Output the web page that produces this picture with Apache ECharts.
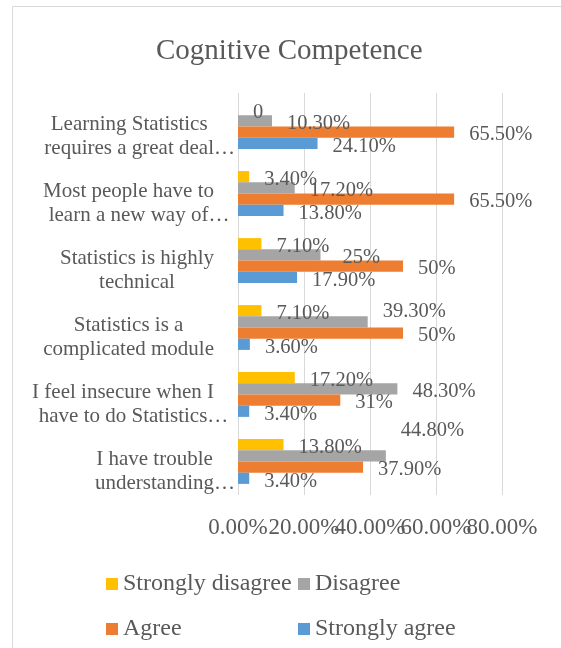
<!DOCTYPE html>
<html>
<head>
<meta charset="utf-8">
<style>
  html, body { margin: 0; padding: 0; background: #ffffff; }
  #chart { width: 561px; height: 648px; }
</style>
<script src="https://cdn.jsdelivr.net/npm/echarts@6/dist/echarts.min.js"></script>
</head>
<body>
<div id="chart"></div>
<script>
const categories = [
  "Learning Statistics\nrequires a great deal…",
  "Most people have to\nlearn a new way of…",
  "Statistics is highly\ntechnical",
  "Statistics is a\ncomplicated module",
  "I feel insecure when I\nhave to do Statistics…",
  "I have trouble\nunderstanding…",
];
const seriesNames = ["Strongly disagree", "Disagree", "Agree", "Strongly agree"];
const stronglyDisagree = [0, 3.4, 7.1, 7.1, 17.2, 13.8];
const disagree = [10.3, 17.2, 25, 39.3, 48.3, 44.8];
const agree = [65.5, 65.5, 50, 50, 31, 37.9];
const stronglyAgree = [24.1, 13.8, 17.9, 3.6, 3.4, 3.4];
const axisTicks = [0, 20, 40, 60, 80];

const colors = ["#FFC000", "#A5A5A5", "#ED7D31", "#5B9BD5"];
const textColor = "#595959";
const serif = '"Liberation Serif", "Times New Roman", serif';

// Excel centres each wrapped label on its own lines, ignoring the trailing "…"
let ctx = document.createElement("canvas").getContext("2d");
ctx.font = "21px " + serif;
const ellW = ctx.measureText("…").width;
const labelRight = 214;
const axisX = 238;

let yData = categories.map(function (name) {
  let lines = name.split("\n");
  let plain = lines.map((l) => ctx.measureText(l.replace(/…$/, "")).width);
  let full = lines.map((l, i) => plain[i] + (/…$/.test(l) ? 2 * ellW : 0));
  let W = Math.max(...plain);
  let C = Math.max(...full);
  let pr = axisX - labelRight - (C - W) / 2;
  // top/bottom padding pair pushes the text down without growing the box
  return { value: name, textStyle: { padding: [10, pr, -10, 0] } };
});

function pctLabel(v) {
  if (v === 0) return "0";
  return Number.isInteger(v) ? v + "%" : v.toFixed(2) + "%";
}

// Excel moved a few Disagree labels to avoid collisions
const disagreeNudge = [[0, 3], [0, 3], [7, 3], [0, -10], [0, 3], [0, -25]];

let values = [stronglyDisagree, disagree, agree, stronglyAgree];
let series = values.map(function (arr, s) {
  return {
    name: seriesNames[s],
    type: "bar",
    barWidth: 11.2,
    barGap: "0%",
    itemStyle: { color: colors[s] },
    label: {
      show: true,
      position: "right",
      distance: 15,
      offset: [0, 3],
      color: textColor,
      fontFamily: serif,
      fontSize: 20.5,
      formatter: (p) => pctLabel(p.value),
    },
    data: arr.map((v, i) =>
      s === 1 ? { value: v, label: { offset: disagreeNudge[i] } } : v
    ),
  };
});

let legendText = { color: textColor, fontFamily: serif, fontSize: 24 };
const axisMax = axisTicks[axisTicks.length - 1];

// ECharts drops one of two overlapping end labels, so the last tick label
// is drawn by a twin axis on the same scale
function xAxisDef(onlyLast) {
  return {
    type: "value",
    gridIndex: 0,
    position: "bottom",
    min: axisTicks[0],
    max: axisMax,
    interval: axisTicks[1] - axisTicks[0],
    axisLine: { show: false },
    axisTick: { show: false },
    splitLine: { show: !onlyLast, lineStyle: { color: "#D9D9D9", width: 1 } },
    axisLabel: {
      margin: 21,
      showMinLabel: true,
      showMaxLabel: true,
      color: textColor,
      fontFamily: serif,
      fontSize: 23,
      formatter: (v) => ((v === axisMax) === onlyLast ? v.toFixed(2) + "%" : ""),
    },
  };
}

let option = {
  animation: false,
  backgroundColor: "#ffffff",
  title: {
    text: "Cognitive Competence",
    left: 156,
    top: 37,
    padding: 0,
    textStyle: { color: textColor, fontFamily: serif, fontSize: 29, fontWeight: "normal" },
  },
  legend: [
    {
      data: [seriesNames[0], seriesNames[2]],
      orient: "vertical",
      left: 106,
      top: 572,
      padding: 0,
      itemWidth: 12,
      itemHeight: 12,
      itemGap: 21,
      icon: "rect",
      textStyle: legendText,
    },
    {
      data: [seriesNames[1], seriesNames[3]],
      orient: "vertical",
      left: 298,
      top: 572,
      padding: 0,
      itemWidth: 12,
      itemHeight: 12,
      itemGap: 21,
      icon: "rect",
      textStyle: legendText,
    },
  ],
  grid: { left: 238, right: 59, top: 93, bottom: 153 },
  xAxis: [xAxisDef(false), xAxisDef(true)],
  yAxis: {
    type: "category",
    inverse: true,
    data: yData,
    axisLine: { show: false },
    axisTick: { show: false },
    axisLabel: {
      margin: 0,
      color: textColor,
      fontFamily: serif,
      fontSize: 21,
      lineHeight: 24,
      formatter: function (name) {
        return name
          .split("\n")
          .map((l) => (/…$/.test(l) ? "{h|…}{c|" + l + "}" : "{c|" + l + "}"))
          .join("\n");
      },
      rich: {
        c: { align: "center", color: textColor, fontFamily: serif, fontSize: 21, lineHeight: 24 },
        h: { align: "center", color: "rgba(0,0,0,0)", fontFamily: serif, fontSize: 21, lineHeight: 24 },
      },
    },
  },
  graphic: [
    {
      type: "rect",
      silent: true,
      shape: { x: 12.5, y: 6.5, width: 600, height: 700 },
      style: { fill: null, stroke: "#D9D9D9", lineWidth: 1 },
    },
  ],
  series: series,
};

let chart = echarts.init(document.getElementById("chart"));
chart.setOption(option);
</script>
</body>
</html>
